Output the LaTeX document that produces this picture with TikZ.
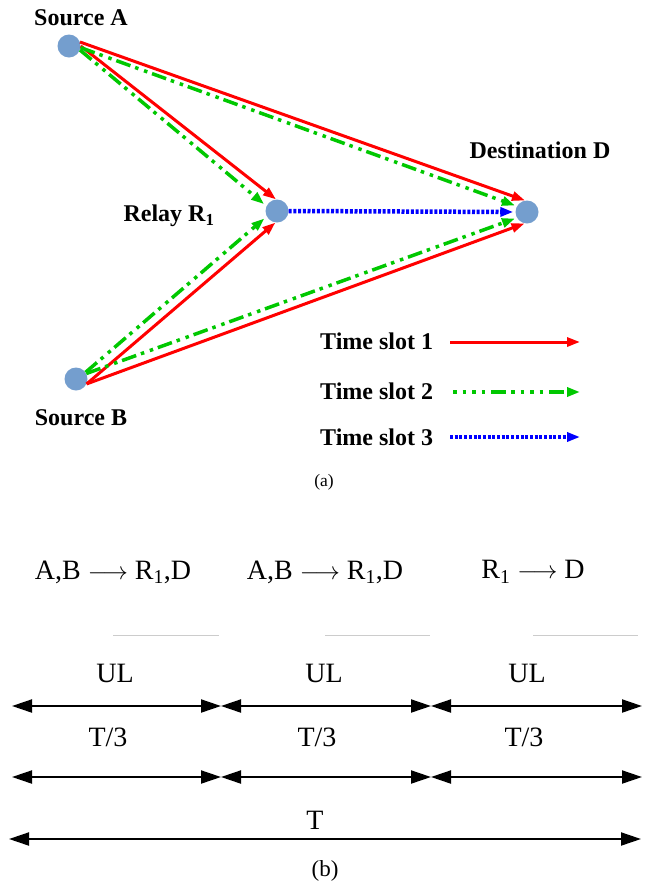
\documentclass[tikz,border=0pt]{standalone}
\usepackage{fontspec}
\setmainfont{Liberation Serif}
\usetikzlibrary{arrows.meta}
\definecolor{nodeblue}{RGB}{116,158,206}
\definecolor{slotred}{RGB}{255,0,0}
\definecolor{slotgreen}{RGB}{0,200,0}
\definecolor{slotblue}{RGB}{0,0,255}
\begin{document}
\begin{tikzpicture}[x=1pt,y=-1pt,
  station/.style={circle,fill=nodeblue,minimum size=23pt,inner sep=0pt},
  lbl/.style={font=\fontsize{24}{28}\selectfont\bfseries,inner sep=0pt},
  toptip/.style={-{Triangle[length=13pt,width=9pt]}},
  slotone/.style={draw=slotred,line width=3pt,toptip},
  slottwo/.style={draw=slotgreen,line width=3.5pt,toptip,dash pattern=on 15pt off 5pt on 3.5pt off 6pt on 3.5pt off 5pt},
  slotthree/.style={draw=slotblue,line width=4.5pt,toptip,dash pattern=on 3pt off 1.7pt},
  btxt/.style={font=\fontsize{28}{32}\selectfont,inner sep=0pt},
  span/.style={line width=2pt,{Triangle[length=20pt,width=13pt]}-{Triangle[length=20pt,width=13pt]}},
  sep/.style={draw=black!20,line width=1pt}
]
\useasboundingbox (0,0) rectangle (651,884);
\fill[white] (0,0) rectangle (651,884);

% stations
\node[station] (A) at (69,46) {};
\node[station] (R) at (277,211) {};
\node[station] (D) at (527,212) {};
\node[station] (B) at (76,379) {};

% labels
\node[lbl] (lA) at (81,18) {Source A};
\node[lbl] (lR) at (169,216) {Relay R\textsubscript{1}};
\node[lbl] (lD) at (540,150) {Destination D};
\node[lbl] (lB) at (81,418) {Source B};

% time slot 1 (red)
\draw[slotone] (A.20) -- (D.100);
\draw[slotone] (A.east) -- (R.95);
\draw[slotone] (B.-25) -- (R.262);
\draw[slotone] (B.-25) -- (D.258);
% time slot 2 (green)
\draw[slottwo,shorten >=2pt] (A.-8) -- (D.150);
\draw[slottwo,shorten >=3pt] (A.-20) -- (R.155);
\draw[slottwo,shorten >=3pt] (B.35) -- (R.208);
\draw[slottwo,shorten >=2pt] (B.28) -- (D.210);
% time slot 3 (blue)
\draw[slotthree,shorten >=2pt] (R.east) -- (D.west);

% legend
\node[lbl,anchor=west] (L1) at (320,341) {Time slot 1};
\node[lbl,anchor=west] (L2) at (320,391) {Time slot 2};
\node[lbl,anchor=west] (L3) at (320,437) {Time slot 3};
\coordinate (l1s) at (450,342); \coordinate (l1e) at (580,342);
\coordinate (l2s) at (453,392); \coordinate (l2e) at (580,392);
\coordinate (l3s) at (450,437); \coordinate (l3e) at (580,437);
\draw[slotone] (l1s) -- (l1e);
\draw[slottwo,dash pattern=on 3.5pt off 6pt on 3.5pt off 6pt on 3.5pt off 6pt on 3.5pt off 6pt on 15pt off 5pt] (l2s) -- (l2e);
\draw[slotthree] (l3s) -- (l3e);

\node[font=\fontsize{17.5}{20}\selectfont] (capa) at (324,482) {(a)};

% bottom part
\node[btxt] (s1) at (113,572) {A,B $\longrightarrow$ R\textsubscript{1},D};
\node[btxt] (s2) at (325,572) {A,B $\longrightarrow$ R\textsubscript{1},D};
\node[btxt] (s3) at (533,572) {R\textsubscript{1} $\longrightarrow$ D};

\coordinate (g1a) at (113,635); \coordinate (g1b) at (219,635);
\coordinate (g2a) at (325,635); \coordinate (g2b) at (430,635);
\coordinate (g3a) at (533,635); \coordinate (g3b) at (638,635);
\draw[sep] (g1a) -- (g1b);
\draw[sep] (g2a) -- (g2b);
\draw[sep] (g3a) -- (g3b);

\node[btxt] (u1) at (115,673) {UL};
\node[btxt] (u2) at (324,673) {UL};
\node[btxt] (u3) at (527,673) {UL};

\coordinate (a0) at (12,706); \coordinate (a1) at (221,706);
\coordinate (a2) at (431,706); \coordinate (a3) at (642,706);
\draw[span] (a0) -- (a1);
\draw[span] (a1) -- (a2);
\draw[span] (a2) -- (a3);

\node[btxt] (t1) at (108,737) {T/3};
\node[btxt] (t2) at (317,737) {T/3};
\node[btxt] (t3) at (524,737) {T/3};

\coordinate (b0) at (12,777); \coordinate (b1) at (221,777);
\coordinate (b2) at (431,777); \coordinate (b3) at (642,777);
\draw[span] (b0) -- (b1);
\draw[span] (b1) -- (b2);
\draw[span] (b2) -- (b3);

\node[btxt] (tt) at (315,820) {T};
\coordinate (c0) at (9,839); \coordinate (c1) at (641,839);
\draw[span] (c0) -- (c1);

\node[font=\fontsize{23}{26}\selectfont] (capb) at (325,871) {(b)};
\end{tikzpicture}
\end{document}
